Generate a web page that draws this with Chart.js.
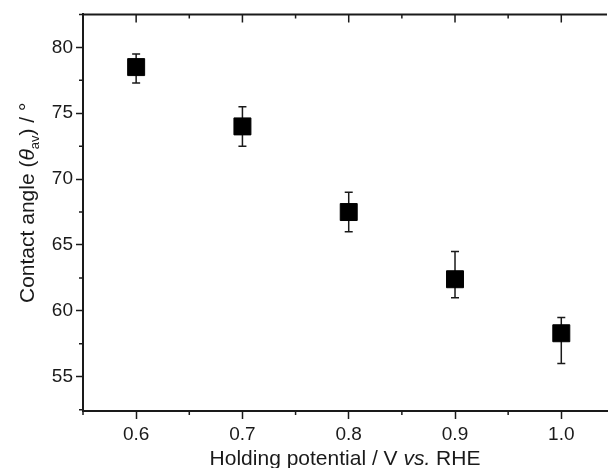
<!DOCTYPE html>
<html>
<head>
<meta charset="utf-8">
<script src="https://cdn.jsdelivr.net/npm/chart.js@4"></script>
<style>
  html, body { margin: 0; padding: 0; background: #fff; overflow: hidden; }
  #wrap { width: 608px; height: 468px; overflow: hidden; }
</style>
</head>
<body>
<div id="wrap"><canvas id="chart" width="620" height="468"></canvas></div>
<script>
// data
const potentials = [0.6, 0.7, 0.8, 0.9, 1.0];
const angles = [78.5, 74.0, 67.5, 62.4, 58.3];
const errHigh = [79.5, 75.5, 69.0, 64.5, 59.5];
const errLow = [77.3, 72.5, 66.0, 61.0, 56.0];

const xTicks = [0.6, 0.7, 0.8, 0.9, 1.0];
const xMinor = [0.55, 0.65, 0.75, 0.85, 0.95, 1.05];
const yTicks = [55, 60, 65, 70, 75, 80];
const yMinor = [52.5, 57.5, 62.5, 67.5, 72.5, 77.5, 82.5];

const ink = '#1a1a1a';
const FONT = '"Liberation Sans", Arial, sans-serif';

// error bars, top axis line and the inward / minor ticks
const decor = {
  id: 'decor',
  beforeDatasetsDraw(chart) {
    const { ctx } = chart;
    const x = chart.scales.x, y = chart.scales.y;
    ctx.save();
    ctx.strokeStyle = ink;
    ctx.lineWidth = 1.5;
    potentials.forEach((p, i) => {
      const px = x.getPixelForValue(p);
      const hi = y.getPixelForValue(errHigh[i]);
      const lo = y.getPixelForValue(errLow[i]);
      ctx.beginPath();
      ctx.moveTo(px, hi); ctx.lineTo(px, lo);
      ctx.moveTo(px - 4, hi); ctx.lineTo(px + 4, hi);
      ctx.moveTo(px - 4, lo); ctx.lineTo(px + 4, lo);
      ctx.stroke();
    });
    ctx.restore();
  },
  afterDraw(chart) {
    const { ctx, chartArea: a } = chart;
    const x = chart.scales.x, y = chart.scales.y;
    ctx.save();
    ctx.strokeStyle = ink;
    ctx.lineWidth = 2;
    ctx.beginPath();
    ctx.moveTo(a.left - 1, a.top); ctx.lineTo(a.right, a.top);
    ctx.stroke();
    ctx.lineWidth = 1.5;
    ctx.beginPath();
    xTicks.forEach(v => {
      const px = x.getPixelForValue(v);
      ctx.moveTo(px, a.top); ctx.lineTo(px, a.top + 8);
    });
    xMinor.forEach(v => {
      if (v > x.max) return;
      const px = x.getPixelForValue(v);
      ctx.moveTo(px, a.top); ctx.lineTo(px, a.top + 4);
      ctx.moveTo(px, a.bottom); ctx.lineTo(px, a.bottom + 4);
    });
    yMinor.forEach(v => {
      if (v > y.max || v < y.min) return;
      const py = y.getPixelForValue(v);
      ctx.moveTo(a.left, py); ctx.lineTo(a.left - 4, py);
    });
    ctx.stroke();

    // axis titles
    ctx.fillStyle = ink;
    ctx.textBaseline = 'alphabetic';
    const t1 = 'Holding potential / V ', t2 = 'vs.', t3 = ' RHE';
    ctx.font = '21px ' + FONT;
    const w1 = ctx.measureText(t1).width, w3 = ctx.measureText(t3).width;
    ctx.font = 'italic 21px ' + FONT;
    const w2 = ctx.measureText(t2).width;
    let sx = 345 - (w1 + w2 + w3) / 2;
    ctx.textAlign = 'left';
    ctx.font = '21px ' + FONT; ctx.fillText(t1, sx, 465); sx += w1;
    ctx.font = 'italic 21px ' + FONT; ctx.fillText(t2, sx, 465); sx += w2;
    ctx.font = '21px ' + FONT; ctx.fillText(t3, sx, 465);

    ctx.translate(34, 303);
    ctx.rotate(-Math.PI / 2);
    let tx = 0;
    const part = (txt, font, dy) => {
      ctx.font = font;
      ctx.fillText(txt, tx, dy);
      tx += ctx.measureText(txt).width;
    };
    part('Contact angle (', '21px ' + FONT, 0);
    part('\u03B8', 'italic 21px ' + FONT, 0);
    part('av', '13px ' + FONT, 5);
    part(') / \u00B0', '21px ' + FONT, 0);
    ctx.restore();
  }
};

new Chart(document.getElementById('chart'), {
  type: 'scatter',
  data: {
    datasets: [{
      label: 'Contact angle',
      data: potentials.map((p, i) => ({ x: p, y: angles[i] })),
      pointStyle: 'rect',
      pointRadius: 12,
      pointHoverRadius: 12,
      backgroundColor: '#000',
      borderColor: '#000',
      borderWidth: 1
    }]
  },
  options: {
    responsive: false,
    animation: false,
    events: [],
    layout: { padding: { top: 14, right: 0, left: 0, bottom: 0 } },
    plugins: { legend: { display: false }, tooltip: { enabled: false } },
    scales: {
      x: {
        type: 'linear',
        min: 0.55,
        max: 1.043,
        afterFit: s => { s.height = 57; },
        afterBuildTicks: s => { s.ticks = xTicks.map(v => ({ value: v })); },
        border: { display: true, color: ink, width: 2 },
        grid: { drawOnChartArea: false, tickLength: 8, tickWidth: 1.5, tickColor: ink },
        ticks: {
          padding: 4,
          color: ink,
          font: { family: FONT, size: 19 },
          maxRotation: 0,
          callback: v => v.toFixed(1)
        }
      },
      y: {
        min: 52.4,
        max: 82.5,
        afterFit: s => { s.width = 83; },
        afterBuildTicks: s => { s.ticks = yTicks.map(v => ({ value: v })); },
        border: { display: true, color: ink, width: 2 },
        grid: { drawOnChartArea: false, tickLength: 7, tickWidth: 1.5, tickColor: ink },
        ticks: {
          padding: 3,
          color: ink,
          font: { family: FONT, size: 19 }
        }
      }
    }
  },
  plugins: [decor]
});
</script>
</body>
</html>
